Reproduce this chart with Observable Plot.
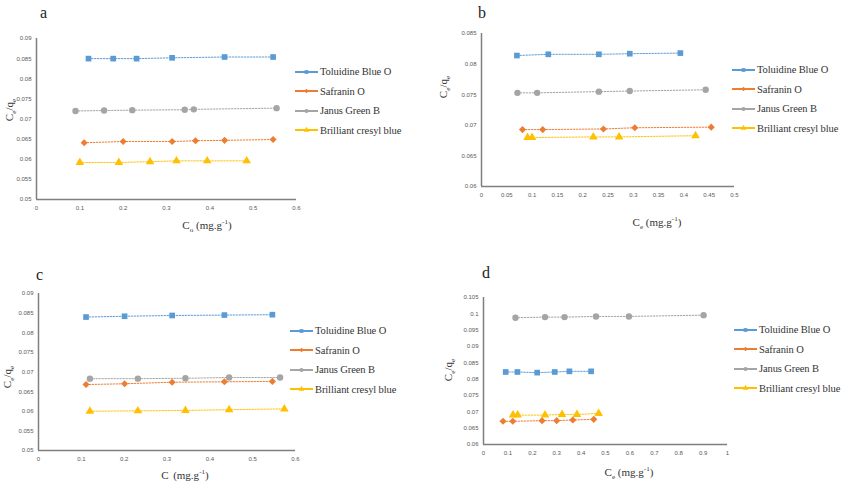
<!DOCTYPE html>
<html><head><meta charset="utf-8">
<script src="https://cdn.jsdelivr.net/npm/d3@7"></script>
<script src="https://cdn.jsdelivr.net/npm/@observablehq/plot@0.6"></script>
<style>
body{margin:0;background:#fff;}
#c{position:relative;width:843px;height:482px;background:#fff;overflow:hidden;font-family:"Liberation Serif","DejaVu Serif",serif;}
.plot{position:absolute;}
.lbl{position:absolute;font-family:"Liberation Serif",serif;font-size:16px;color:#222;line-height:1;}
.xt{position:absolute;font-family:"Liberation Serif",serif;font-size:11px;color:#333;transform:translateX(-50%);white-space:nowrap;line-height:1;}
.yt{position:absolute;font-family:"Liberation Serif",serif;font-size:11px;color:#333;transform:translate(-50%,-50%) rotate(-90deg);white-space:nowrap;line-height:1;}
.leg{position:absolute;font-family:"Liberation Serif",serif;font-size:10.5px;color:#333;letter-spacing:-0.1px;}
.leg div{height:19.5px;display:flex;align-items:center;white-space:nowrap;}
.leg svg{margin-right:2px;}
sub,sup{font-size:65%;}
</style>
</head><body>
<div id="c"></div>
<script>
// ---- series definitions ----
const seriesNames = ["Toluidine Blue O","Safranin O","Janus Green B","Brilliant cresyl blue"];
const seriesColors = ["#5B9BD5","#ED7D31","#A5A5A5","#FFC000"];
const seriesSymbols = ["square","diamond2","circle","triangle"];
const panelLetters = ["a","b","c","d"];

// ---- panel a ----
const a_tol_x = [0.12,0.177,0.231,0.313,0.434,0.546];
const a_tol_y = [0.0850,0.0850,0.0850,0.0852,0.0854,0.0854];
const a_saf_x = [0.11,0.20,0.313,0.367,0.434,0.546];
const a_saf_y = [0.0641,0.0644,0.0644,0.0646,0.0647,0.0649];
const a_jan_x = [0.09,0.156,0.221,0.342,0.363,0.554];
const a_jan_y = [0.0720,0.0721,0.0722,0.0723,0.0724,0.0727];
const a_bcb_x = [0.10,0.19,0.262,0.323,0.394,0.485];
const a_bcb_y = [0.0592,0.0592,0.0594,0.0596,0.0596,0.0596];
const a_xticks = [0,0.1,0.2,0.3,0.4,0.5,0.6];
const a_yticks = [0.05,0.055,0.06,0.065,0.07,0.075,0.08,0.085,0.09];

// ---- panel b ----
const b_tol_x = [0.07,0.132,0.232,0.293,0.393];
const b_tol_y = [0.0814,0.0816,0.0816,0.0817,0.0818];
const b_saf_x = [0.081,0.121,0.241,0.303,0.454];
const b_saf_y = [0.0693,0.0693,0.0694,0.0696,0.0697];
const b_jan_x = [0.071,0.11,0.232,0.293,0.443];
const b_jan_y = [0.0753,0.0753,0.0755,0.0756,0.0758];
const b_bcb_x = [0.091,0.10,0.221,0.272,0.423];
const b_bcb_y = [0.0680,0.0680,0.0681,0.0681,0.0683];
const b_xticks = [0,0.05,0.1,0.15,0.2,0.25,0.3,0.35,0.4,0.45,0.5];
const b_yticks = [0.06,0.065,0.07,0.075,0.08,0.085];

// ---- panel c ----
const c_tol_x = [0.111,0.201,0.312,0.434,0.546];
const c_tol_y = [0.0840,0.0842,0.0844,0.0845,0.0846];
const c_saf_x = [0.111,0.201,0.312,0.434,0.546];
const c_saf_y = [0.0668,0.0670,0.0674,0.0675,0.0676];
const c_jan_x = [0.12,0.232,0.343,0.445,0.564];
const c_jan_y = [0.0683,0.0683,0.0684,0.0686,0.0686];
const c_bcb_x = [0.12,0.232,0.343,0.445,0.574];
const c_bcb_y = [0.0600,0.0601,0.0602,0.0604,0.0606];
const c_xticks = [0,0.1,0.2,0.3,0.4,0.5,0.6];
const c_yticks = [0.05,0.055,0.06,0.065,0.07,0.075,0.08,0.085,0.09];

// ---- panel d ----
const d_tol_x = [0.091,0.139,0.22,0.292,0.352,0.441];
const d_tol_y = [0.0822,0.0822,0.0820,0.0822,0.0824,0.0824];
const d_saf_x = [0.08,0.12,0.24,0.30,0.366,0.452];
const d_saf_y = [0.0671,0.0671,0.0673,0.0673,0.0675,0.0677];
const d_jan_x = [0.131,0.252,0.332,0.461,0.596,0.902];
const d_jan_y = [0.0988,0.0990,0.0990,0.0992,0.0992,0.0996];
const d_bcb_x = [0.121,0.14,0.252,0.322,0.383,0.472];
const d_bcb_y = [0.0690,0.0690,0.0690,0.0692,0.0692,0.0695];
const d_xticks = [0,0.1,0.2,0.3,0.4,0.5,0.6,0.7,0.8,0.9,1];
const d_yticks = [0.06,0.065,0.07,0.075,0.08,0.085,0.09,0.095,0.1,0.105];

// ---- layout (positions only) ----
const panels = [
  {xs:[a_tol_x,a_saf_x,a_jan_x,a_bcb_x], ys:[a_tol_y,a_saf_y,a_jan_y,a_bcb_y], xt:a_xticks, yt:a_yticks,
   left:0, top:0, w:420, h:240, ml:36, mr:124, mt:38, mb:41,
   lbl:[40,5], xtitle:[207,219], ytitle:[11,110], leg:[295,62], xsub:"o"},
  {xs:[b_tol_x,b_saf_x,b_jan_x,b_bcb_x], ys:[b_tol_y,b_saf_y,b_jan_y,b_bcb_y], xt:b_xticks, yt:b_yticks,
   left:420, top:0, w:423, h:240, ml:61, mr:109, mt:33, mb:54,
   lbl:[478,5], xtitle:[657,216], ytitle:[445,87], leg:[732,60], xsub:"e"},
  {xs:[c_tol_x,c_saf_x,c_jan_x,c_bcb_x], ys:[c_tol_y,c_saf_y,c_jan_y,c_bcb_y], xt:c_xticks, yt:c_yticks,
   left:0, top:240, w:420, h:242, ml:38, mr:125, mt:53, mb:32,
   lbl:[36,267], xtitle:[185,469], ytitle:[9,377], leg:[290,321], xsub:"\u00a0"},
  {xs:[d_tol_x,d_saf_x,d_jan_x,d_bcb_x], ys:[d_tol_y,d_saf_y,d_jan_y,d_bcb_y], xt:d_xticks, yt:d_yticks,
   left:420, top:240, w:423, h:242, ml:63, mr:116, mt:57, mb:38,
   lbl:[482,265], xtitle:[629,466], ytitle:[450,370], leg:[734,320], xsub:"e"}
];

const fmt = d => String(+d.toFixed(3));
const root = document.getElementById("c");

panels.forEach((p, i) => {
  const rows = [];
  seriesNames.forEach((s, k) => p.xs[k].forEach((x, j) => rows.push({series:s, x, y:p.ys[k][j]})));
  const xd = [p.xt[0], p.xt[p.xt.length-1]];
  const yd = [p.yt[0], p.yt[p.yt.length-1]];
  const chart = Plot.plot({
    width:p.w, height:p.h, marginLeft:p.ml, marginRight:p.mr, marginTop:p.mt, marginBottom:p.mb,
    style:{fontSize:"6px", color:"#595959", fontFamily:"'Liberation Sans', Arial, sans-serif", background:"transparent"},
    x:{domain:xd, ticks:p.xt, tickFormat:fmt, tickSize:0, tickPadding:6, label:null},
    y:{domain:yd, ticks:p.yt, tickFormat:fmt, tickSize:0, tickPadding:5, label:null},
    color:{domain:seriesNames, range:seriesColors},
    symbol:{domain:seriesNames, range:seriesSymbols},
    marks:[
      Plot.ruleX([xd[0]], {stroke:"#7f7f7f", strokeWidth:1.5}),
      Plot.ruleY([yd[0]], {stroke:"#7f7f7f", strokeWidth:1.5}),
      Plot.line(rows, {x:"x", y:"y", z:"series", stroke:"series", strokeWidth:1, strokeDasharray:"1.5,1.5"}),
      Plot.dot(rows, {x:"x", y:"y", fill:"series", symbol:"series", r:3.2, stroke:"none"})
    ]
  });
  chart.classList.add("plot");
  chart.style.left = p.left + "px";
  chart.style.top = p.top + "px";
  root.appendChild(chart);

  const lbl = document.createElement("div");
  lbl.className = "lbl"; lbl.textContent = panelLetters[i];
  lbl.style.left = p.lbl[0] + "px"; lbl.style.top = p.lbl[1] + "px";
  root.appendChild(lbl);

  const xt = document.createElement("div");
  xt.className = "xt";
  xt.innerHTML = "C<sub>" + p.xsub + "</sub> (mg.g<sup>-1</sup>)";
  xt.style.left = p.xtitle[0] + "px"; xt.style.top = p.xtitle[1] + "px";
  root.appendChild(xt);

  const yt = document.createElement("div");
  yt.className = "yt";
  yt.innerHTML = "C<sub>e</sub>/q<sub>e</sub>";
  yt.style.left = p.ytitle[0] + "px"; yt.style.top = p.ytitle[1] + "px";
  root.appendChild(yt);

  const leg = document.createElement("div");
  leg.className = "leg";
  leg.style.left = p.leg[0] + "px"; leg.style.top = p.leg[1] + "px";
  seriesNames.forEach((s, k) => {
    const row = document.createElement("div");
    const sym = d3.symbol(seriesSymbols[k] === "square" ? d3.symbolSquare : seriesSymbols[k] === "diamond2" ? d3.symbolDiamond2 : seriesSymbols[k] === "circle" ? d3.symbolCircle : d3.symbolTriangle, 14)();
    row.innerHTML = `<svg width="23" height="8"><line x1="0" x2="23" y1="4" y2="4" stroke="${seriesColors[k]}" stroke-width="2"/><path d="${sym}" transform="translate(11.5,4)" fill="${seriesColors[k]}"/></svg>`;
    const t = document.createElement("span"); t.textContent = s;
    row.appendChild(t);
    leg.appendChild(row);
  });
  root.appendChild(leg);
});
</script>
</body></html>
